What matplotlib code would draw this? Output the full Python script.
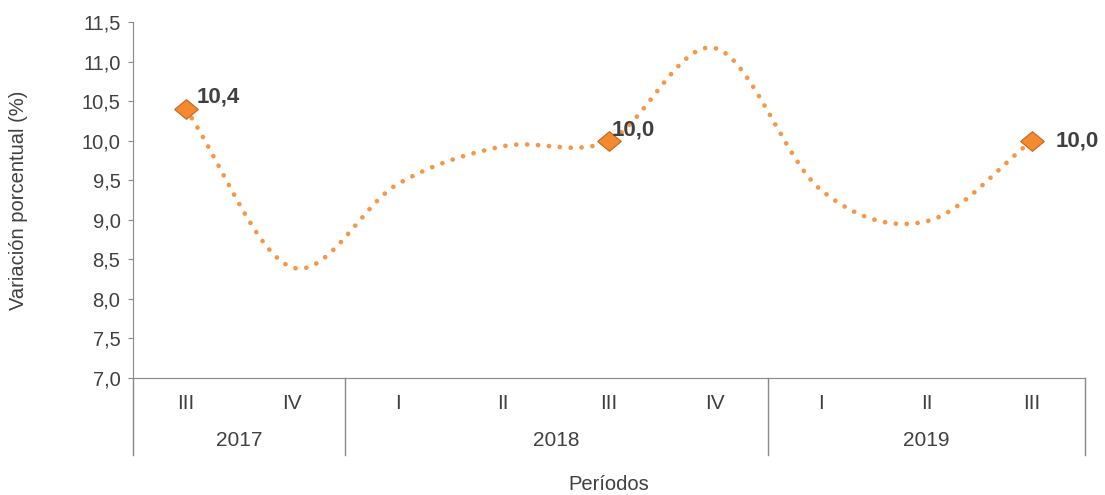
import numpy as np
import matplotlib.pyplot as plt
import matplotlib.transforms as mtransforms

plt.rcParams['font.family'] = ['Liberation Sans', 'DejaVu Sans']

trimestres = ['III', 'IV', 'I', 'II', 'III', 'IV', 'I', 'II', 'III']
anios = ['2017', '2018', '2019']
trim_por_anio = [2, 4, 3]
variacion = [10.4, 8.4, 9.45, 9.93, 10.0, 11.17, 9.38, 8.98, 10.0]
etiquetas = {0: '10,4', 4: '10,0', 8: '10,0'}
offsets = {0: (8, 9), 4: (2, 8), 8: (17, 0)}

naranja = '#F79646'
gris = '#404040'
gris_eje = '#898989'


def suavizar(x, y, n=40):
    # curva tipo Catmull-Rom para imitar la linea suavizada
    x = np.asarray(x, float)
    y = np.asarray(y, float)
    px = np.concatenate([[2 * x[0] - x[1]], x, [2 * x[-1] - x[-2]]])
    py = np.concatenate([[2 * y[0] - y[1]], y, [2 * y[-1] - y[-2]]])
    xs, ys = [], []
    t = np.linspace(0, 1, n)
    for i in range(1, len(px) - 2):
        for p, out in ((px, xs), (py, ys)):
            p0, p1, p2, p3 = p[i - 1], p[i], p[i + 1], p[i + 2]
            out.extend(0.5 * (2 * p1 + (-p0 + p2) * t
                              + (2 * p0 - 5 * p1 + 4 * p2 - p3) * t ** 2
                              + (-p0 + 3 * p1 - 3 * p2 + p3) * t ** 3))
    return np.array(xs), np.array(ys)


fig = plt.figure(figsize=(11.05, 4.95), dpi=100)
ax = fig.add_axes([0.1204, 0.2364, 0.8616, 0.7192])

x = np.arange(len(variacion))
sx, sy = suavizar(x, variacion)
ax.plot(sx, sy, color=naranja, lw=3.4, linestyle=(0, (0.01, 2.3)),
        dash_capstyle='round', zorder=2)

# rombo algo mas ancho que alto
rombo = [(-1.2, 0), (0, 1), (1.2, 0), (0, -1), (-1.2, 0)]
idx = list(etiquetas.keys())
ax.plot(x[idx], np.array(variacion)[idx], linestyle='none', marker=rombo, ms=17,
        mfc='#F48A30', mec='#C8631A', mew=0.8, zorder=3)
for i, txt in etiquetas.items():
    ax.annotate(txt, (x[i], variacion[i]), xytext=offsets[i], textcoords='offset points',
                fontsize=16, fontweight='bold', color=gris, va='center',
                ha='left', zorder=4)

ax.set_xlim(-0.5, len(variacion) - 0.5)
ax.set_ylim(7.0, 11.5)
ax.set_yticks(np.arange(7.0, 11.51, 0.5))
ax.set_yticklabels([f'{v:.1f}'.replace('.', ',') for v in np.arange(7.0, 11.51, 0.5)],
                   fontsize=14.5, color=gris)
ax.set_xticks([])

for s in ['top', 'right']:
    ax.spines[s].set_visible(False)
ax.spines['left'].set_color(gris_eje)
ax.spines['bottom'].set_color(gris_eje)
ax.tick_params(axis='y', direction='out', length=3.6, color=gris_eje, pad=5.5)

ax.set_ylabel('Variación porcentual (%)', fontsize=14.5, color=gris)
ax.yaxis.set_label_coords(-0.11, 0.5)

# eje de categorias en dos niveles
trans = mtransforms.blended_transform_factory(ax.transData, ax.transAxes)
for i, t in enumerate(trimestres):
    ax.text(i, -0.073, t, transform=trans, ha='center', va='center', fontsize=15, color=gris)

limites = np.concatenate([[0], np.cumsum(trim_por_anio)]) - 0.5
for b in limites:
    ax.plot([b, b], [0, -0.216], transform=trans, color=gris_eje, lw=1, clip_on=False)
for k, a in enumerate(anios):
    centro = (limites[k] + limites[k + 1]) / 2
    ax.text(centro, -0.176, a, transform=trans, ha='center', va='center', fontsize=15, color=gris)

ax.text(0.5, -0.3, 'Períodos', transform=ax.transAxes, ha='center', va='center',
        fontsize=14.5, color=gris)

fig.savefig('out.png', dpi=100)
